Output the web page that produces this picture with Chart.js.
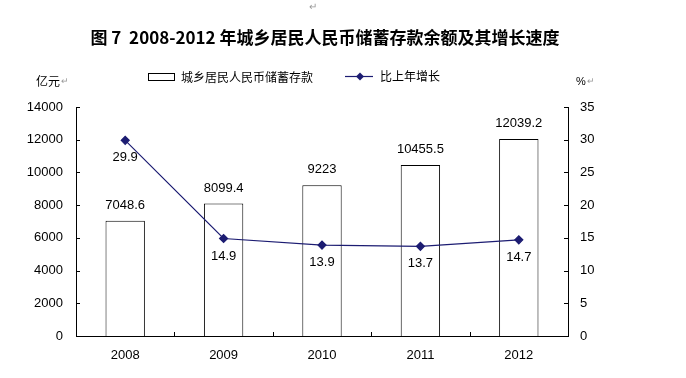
<!DOCTYPE html>
<html><head><meta charset="utf-8">
<script src="https://cdn.jsdelivr.net/npm/chart.js@4"></script>
<style>html,body{margin:0;padding:0;background:#fff}#wrap{width:686px;height:378px}</style>
</head><body><div id="wrap"><canvas id="c" width="686" height="378"></canvas></div>
<script>
const years = ['2008','2009','2010','2011','2012'];
const savings = [7048.6, 8099.4, 9223, 10455.5, 12039.2];
const growth = [29.9, 14.9, 13.9, 13.7, 14.7];
const savingsLabels = ['7048.6','8099.4','9223','10455.5','12039.2'];
const growthLabels = ['29.9','14.9','13.9','13.7','14.7'];
const titleText = '图 7  2008-2012 年城乡居民人民币储蓄存款余额及其增长速度';
const barName = '城乡居民人民币储蓄存款';
const lineName = '比上年增长';
const leftUnit = '亿元';
const rightUnit = '%';

const LINE_COLOR = '#1c1c72';
const NUMFONT = '"Liberation Sans", Arial, sans-serif';
const CJK = '"Noto Sans CJK SC", sans-serif';

const decor = {
  id: 'decor',
  afterDraw(chart) {
    const ctx = chart.ctx;
    const a = chart.chartArea;
    const y = chart.scales.y, y1 = chart.scales.y1, x = chart.scales.x;
    ctx.save();
    ctx.strokeStyle = '#000'; ctx.lineWidth = 1;
    ctx.beginPath();
    y.ticks.forEach(t => { const p = Math.round(y.getPixelForValue(t.value)) + 0.5; ctx.moveTo(a.left, p); ctx.lineTo(a.left + 4, p); });
    y1.ticks.forEach(t => { const p = Math.round(y1.getPixelForValue(t.value)) + 0.5; ctx.moveTo(a.right, p); ctx.lineTo(a.right - 4, p); });
    for (let i = 1; i < years.length; i++) {
      const p = Math.round((x.getPixelForValue(i - 1) + x.getPixelForValue(i)) / 2) + 0.5;
      ctx.moveTo(p, a.bottom); ctx.lineTo(p, a.bottom - 4);
    }
    ctx.stroke();

    ctx.fillStyle = '#000';
    ctx.font = '13px ' + NUMFONT;
    ctx.textAlign = 'center';
    const bm = chart.getDatasetMeta(1);
    bm.data.forEach((el, i) => { ctx.textBaseline = 'bottom'; ctx.fillText(savingsLabels[i], el.x, el.y - 9); });
    const lm = chart.getDatasetMeta(0);
    lm.data.forEach((el, i) => { ctx.textBaseline = 'top'; ctx.fillText(growthLabels[i], el.x, el.y + 11); });

    ctx.font = 'bold 17px ' + CJK;
    ctx.textBaseline = 'middle';
    ctx.textAlign = 'center';
    ctx.fillText(titleText, 325, 38);
    ctx.fillStyle = '#999';
    ctx.font = '10px ' + NUMFONT;
    ctx.fillText('↵', 313, 7);

    ctx.fillStyle = '#000';
    ctx.font = '12px ' + CJK;
    ctx.textAlign = 'left';
    ctx.fillText(leftUnit, 36, 81);
    ctx.font = '11px ' + NUMFONT;
    ctx.fillText(rightUnit, 576, 82);
    ctx.fillStyle = '#999'; ctx.font = '9px ' + NUMFONT;
    ctx.fillText('↵', 61, 82); ctx.fillText('↵', 587, 82);

    ctx.fillStyle = '#fff'; ctx.strokeStyle = '#000';
    ctx.fillRect(148.5, 73.5, 26, 7); ctx.strokeRect(148.5, 73.5, 26, 7);
    ctx.fillStyle = '#000'; ctx.font = '12px ' + CJK; ctx.textAlign = 'left';
    ctx.fillText(barName, 181, 77);
    ctx.strokeStyle = LINE_COLOR; ctx.lineWidth = 1.2;
    ctx.beginPath(); ctx.moveTo(345, 76.5); ctx.lineTo(373, 76.5); ctx.stroke();
    ctx.fillStyle = LINE_COLOR;
    ctx.beginPath(); ctx.moveTo(360, 72.5); ctx.lineTo(364, 76.5); ctx.lineTo(360, 80.5); ctx.lineTo(356, 76.5); ctx.closePath(); ctx.fill();
    ctx.fillStyle = '#000';
    ctx.fillText(lineName, 380, 76);
    ctx.restore();
  }
};

new Chart(document.getElementById('c'), {
  data: {
    labels: years,
    datasets: [
      { type: 'line', label: lineName, data: growth, yAxisID: 'y1', borderColor: LINE_COLOR, backgroundColor: LINE_COLOR,
        borderWidth: 1.2, pointStyle: 'rectRot', pointRadius: 4, pointHoverRadius: 4, tension: 0, order: 0 },
      { type: 'bar', label: barName, data: savings, yAxisID: 'y', backgroundColor: '#fff', borderColor: '#000', borderWidth: 1,
        barPercentage: 0.4, categoryPercentage: 1, order: 1 }
    ]
  },
  options: {
    responsive: false, animation: false, devicePixelRatio: 1,
    layout: { padding: { top: 107, left: 0, right: 0, bottom: 0 } },
    plugins: { legend: { display: false }, title: { display: false }, tooltip: { enabled: false } },
    scales: {
      x: { grid: { display: false, drawTicks: false }, border: { display: true, color: '#000', width: 1 },
           ticks: { color: '#000', font: { family: NUMFONT, size: 13 }, padding: 12 },
           afterFit(s) { s.height = 42; } },
      y: { position: 'left', min: 0, max: 14000, grid: { display: false, drawTicks: false },
           border: { display: true, color: '#000', width: 1 },
           ticks: { stepSize: 2000, color: '#000', font: { family: NUMFONT, size: 13 }, padding: 13, callback: v => String(v) },
           afterFit(s) { s.width = 76; } },
      y1: { position: 'right', min: 0, max: 35, grid: { display: false, drawTicks: false },
           border: { display: true, color: '#000', width: 1 },
           ticks: { stepSize: 5, color: '#000', font: { family: NUMFONT, size: 13 }, padding: 12, callback: v => String(v) },
           afterFit(s) { s.width = 118; } }
    }
  },
  plugins: [decor]
});
</script></body></html>
